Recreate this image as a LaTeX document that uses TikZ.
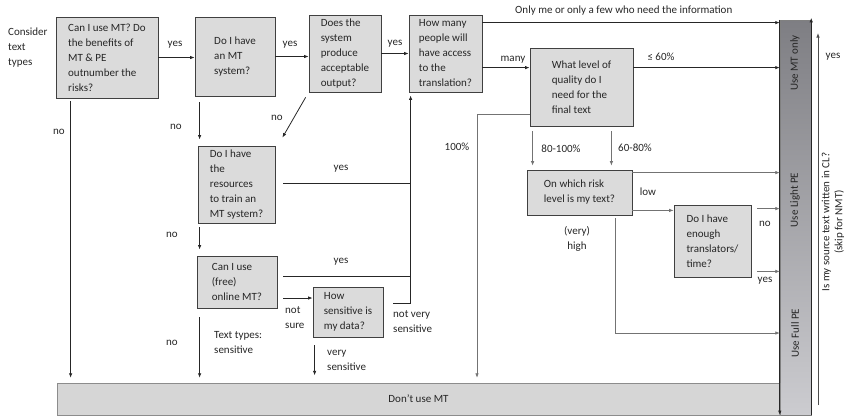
\documentclass[tikz,border=0pt]{standalone}
\usepackage{fontspec}
\setmainfont{Carlito}
\usetikzlibrary{arrows.meta}
\definecolor{bartop}{RGB}{126,126,131}
\definecolor{barbot}{RGB}{204,204,208}
\begin{document}
\begin{tikzpicture}[x=1pt,y=-1pt,
  every node/.style={font=\fontsize{11}{15}\selectfont, text=black!85},
  box/.style={draw=black!75, fill=gray!28, line width=0.8pt, align=left, inner sep=0pt},
  lbl/.style={inner sep=0pt, align=left},
  arr/.style={-{Latex[length=4.5pt,width=3.5pt]}, line width=0.8pt, draw=black!85},
  ln/.style={line width=0.8pt, draw=black!85},
  garr/.style={-{Latex[length=4.5pt,width=3.5pt]}, line width=0.7pt, draw=black!55},
  gln/.style={line width=0.7pt, draw=black!55},
]
\useasboundingbox (0,0) rectangle (848,418);

% boxes
\node[box, minimum width=102pt, minimum height=81pt] (n1) at (107,57.5) {Can I use MT? Do\\the benefits of\\MT \& PE\\outnumber the\\risks?};
\node[box, minimum width=80pt, minimum height=79pt] (n2) at (235,56.5) {Do I have\\an MT\\system?};
\node[box, minimum width=72pt, minimum height=77pt] (n3) at (345,53.5) {Does the\\system\\produce\\acceptable\\output?};
\node[box, minimum width=73pt, minimum height=77pt] (n4) at (445.5,53.5) {How many\\people will\\have access\\to the\\translation?};
\node[box, minimum width=103pt, minimum height=78pt] (n5) at (581.5,87) {What level of\\quality do I\\need for the\\final text};
\node[box, minimum width=77pt, minimum height=77pt] (n6) at (236.5,184.5) {Do I have\\the\\resources\\to train an\\MT system?};
\node[box, minimum width=80pt, minimum height=52pt] (n7) at (237,282) {Can I use\\(free)\\online MT?};
\node[box, minimum width=70pt, minimum height=50pt] (n8) at (348,312) {How\\sensitive is\\my data?};
\node[box, minimum width=105pt, minimum height=45pt] (n9) at (579.5,192.5) {On which risk\\level is my text?};
\node[box, minimum width=77pt, minimum height=72pt] (n10) at (712.5,241) {Do I have\\enough\\translators/\\time?};

% gradient bar
\begin{scope}[y=1pt]
\shade[top color=bartop, bottom color=barbot] (780,-20) rectangle (811,-415);
\end{scope}
\node[draw=black!50, minimum width=31pt, minimum height=395pt, inner sep=0pt] (bar) at (795.5,217.5) {};
\node[rotate=90] (b1) at (795,63) {Use MT only};
\node[rotate=90] (b2) at (795,200) {Use Light PE};
\node[rotate=90] (b3) at (795,333) {Use Full PE};
\node[draw=black!45, fill=gray!32, minimum width=723pt, minimum height=32pt, inner sep=0pt] (dont) at (418.5,399) {Don’t use MT};
\draw[arr] (bar.north west) -- (bar.south west);
\draw[arr] (bar.south east) -- ([yshift=2pt]bar.north east);

% CL arrow
\coordinate (cl1) at (818,405);
\coordinate (cl2) at (818,33);
\draw[arr, draw=black!70] (cl1) -- (cl2);
\node[rotate=90, align=center, font=\fontsize{11}{13}\selectfont] (cl) at (833,222) {Is my source text written in CL?\\(skip for NMT)};
\node[lbl] (lyescl) at (833,57) {yes};

% top flow
\draw[arr] (n1.east) -- (n1.east -| n2.west);
\draw[arr] (n2.east) -- (n2.east -| n3.west);
\draw[arr] (n3.east) -- (n3.east -| n4.west);
\coordinate (a1) at ([yshift=-8pt]n4.north east);
\draw[arr] (a1) -- (a1 -| bar.west);
\coordinate (m) at ([yshift=-20pt]n5.north west);
\draw[arr] (n4.east |- m) -- (m);
\draw[arr] (n5.east |- m) -- (m -| bar.west);

% downward left
\coordinate (d1) at ([xshift=15pt]n1.south west);
\draw[arr, shorten <=3pt, shorten >=5pt] (d1) -- (d1 |- dont.north);
\coordinate (d2) at ([xshift=5pt]n2.south west);
\draw[arr, shorten <=6pt, shorten >=6pt] (d2) -- (d2 |- n6.north);
\draw[arr] ([xshift=-3pt,yshift=-5pt]n3.south west) -- ([xshift=7pt,yshift=8pt]n6.north east);
\coordinate (d3) at ([xshift=2pt]n6.south west);
\draw[arr, shorten <=4pt, shorten >=6pt] (d3) -- (d3 |- n7.north);
\coordinate (j0) at ([xshift=2pt]n4.south west);
\coordinate (y6) at ([xshift=8pt,yshift=1.5pt]n6.east);
\draw[ln] (y6) -- (y6 -| j0);
\coordinate (y7) at ([xshift=6pt,yshift=6pt]n7.east);
\draw[ln] (y7) -- (y7 -| j0);
\coordinate (s7) at ([xshift=6pt,yshift=-16pt]n7.east);
\draw[arr] (s7) -- (s7 -| n8.west);
\coordinate (s8) at ([xshift=10pt,yshift=9pt]n8.east);
\draw[arr, shorten >=3pt] (s8) -| (j0);
\coordinate (d8) at ([xshift=2pt]n8.south west);
\draw[arr, shorten <=8pt] (d8) -- ++(0,38);
\coordinate (d7) at ([xshift=3pt]n7.south west);
\draw[arr, shorten <=9pt, shorten >=5pt] (d7) -- (d7 |- dont.north);

% right part
\coordinate (h5) at ([yshift=-27pt]n5.west);
\coordinate (k) at (477,0);
\draw[garr, shorten >=5pt] (h5) -| (k |- dont.north);
\coordinate (q1) at ([xshift=3pt]n5.south west);
\draw[garr, shorten <=5pt, shorten >=4pt] (q1) -- (q1 |- n9.north);
\coordinate (q2) at ([xshift=-22pt]n5.south east);
\draw[garr, shorten <=5pt, shorten >=4pt] (q2) -- (q2 |- n9.north);
\coordinate (r1) at ([yshift=-3pt]n9.north east);
\draw[garr] (r1) -- (r1 -| bar.west);
\coordinate (r2) at ([yshift=5pt]n9.south east);
\draw[garr] (r2) -- (r2 -| n10.west);
\coordinate (r3) at ([xshift=6pt,yshift=-4pt]n10.north east);
\draw[garr] (r3) -- (r3 -| bar.west);
\coordinate (r4) at ([xshift=6pt,yshift=6pt]n10.south east);
\draw[garr] (r4) -- (r4 -| bar.west);
\coordinate (r5) at ([xshift=-17pt]n9.south east);
\coordinate (fl) at (700,333);
\draw[garr, shorten <=3pt] (r5) |- (fl -| bar.west);

% labels
\node[lbl, anchor=west] (lc) at (8,48) {Consider\\text\\types};
\node[lbl] (l1) at (175,45) {yes};
\node[lbl] (l2) at (290,45) {yes};
\node[lbl] (l3) at (395,44) {yes};
\node[lbl, anchor=west] (lonly) at (515,11) {Only me or only a few who need the information};
\node[lbl] (lmany) at (513,60) {many};
\node[lbl] (l60) at (661,57) {≤ 60\%};
\node[lbl] (ln1) at (59,132) {no};
\node[lbl] (ln2) at (176,127) {no};
\node[lbl] (ln3) at (277,118) {no};
\node[lbl] (ly6) at (341,169) {yes};
\node[lbl] (ln6) at (172,235) {no};
\node[lbl] (ly7) at (341,262) {yes};
\node[lbl, anchor=west] (lns) at (285,318) {not\\sure};
\node[lbl, anchor=west] (lnvs) at (393,322) {not very\\sensitive};
\node[lbl, anchor=west] (lvs) at (327,360) {very\\sensitive};
\node[lbl] (ln7) at (172,343) {no};
\node[lbl, anchor=west] (ltt) at (214,343) {Text types:\\sensitive};
\node[lbl] (l100) at (457,147) {100\%};
\node[lbl] (l80) at (561,149) {80-100\%};
\node[lbl] (l6080) at (635,148) {60-80\%};
\node[lbl] (llow) at (648,192) {low};
\node[lbl, align=center] (lhigh) at (577,239) {(very)\\high};
\node[lbl] (ln10) at (765,224) {no};
\node[lbl] (ly10) at (765,281) {yes};
\end{tikzpicture}
\end{document}
